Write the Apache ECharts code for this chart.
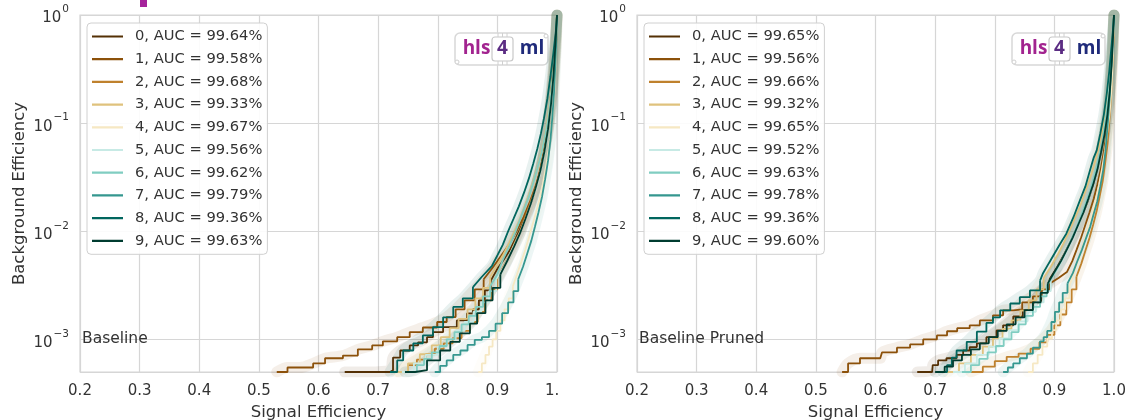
<!DOCTYPE html>
<html><head><meta charset="utf-8">
<script src="https://cdn.jsdelivr.net/npm/echarts@6/dist/echarts.min.js"></script>
<style>html,body{margin:0;padding:0;background:#fff}#c{width:1128px;height:420px}</style>
</head><body><div id="c"></div>
<script>
const classNames = ['0','1','2','3','4','5','6','7','8','9'];
const colors = ['#543005','#8c510a','#bf812d','#dfc27d','#f6e8c3','#c7eae5','#80cdc1','#35978f','#01665e','#003c30'];
const aucBaseline = [99.64,99.58,99.68,99.33,99.67,99.56,99.62,99.79,99.36,99.63];
const aucPruned = [99.65,99.56,99.66,99.32,99.65,99.52,99.63,99.78,99.36,99.60];
const panelTitles = ['Baseline','Baseline Pruned'];
const xTitle = 'Signal Efficiency';
const yTitle = 'Background Efficiency';

// [signal efficiency, background efficiency]
const baseline0 = [[0.644,5.0e-4],[0.683,5.0e-4],[0.72,5.2e-4],[0.725,6.8e-4],[0.737,7.9e-4],[0.753,8.8e-4],[0.767,9.4e-4],[0.782,1.05e-3],[0.792,1.17e-3],[0.809,1.3e-3],[0.832,1.5e-3],[0.849,1.74e-3],[0.859,1.9e-3],[0.869,2.3e-3],[0.879,2.84e-3],[0.889,3.5e-3],[0.899,4.4e-3],[0.91,5.4e-3],[0.921,6.7e-3],[0.931,8.7e-3],[0.941,1.14e-2],[0.95,1.5e-2],[0.958,1.94e-2],[0.966,2.7e-2],[0.972,3.7e-2],[0.978,5.4e-2],[0.983,8.6e-2],[0.988,0.14],[0.992,0.25],[0.995,0.4],[0.998,0.65],[1,1]];
const baseline1 = [[0.53,5.0e-4],[0.548,5.5e-4],[0.569,5.5e-4],[0.591,6.0e-4],[0.611,6.7e-4],[0.641,7.1e-4],[0.666,8.1e-4],[0.69,8.8e-4],[0.708,9.6e-4],[0.732,1.05e-3],[0.753,1.17e-3],[0.775,1.29e-3],[0.799,1.45e-3],[0.815,1.61e-3],[0.83,1.9e-3],[0.845,2.3e-3],[0.862,2.9e-3],[0.877,3.6e-3],[0.892,4.6e-3],[0.906,5.9e-3],[0.92,7.6e-3],[0.932,1.0e-2],[0.944,1.35e-2],[0.955,1.9e-2],[0.965,2.7e-2],[0.974,4.0e-2],[0.981,6.2e-2],[0.987,0.1],[0.992,0.17],[0.996,0.32],[0.999,0.6],[1,1]];
const baseline2 = [[0.735,5.0e-4],[0.75,5.8e-4],[0.765,6.5e-4],[0.78,7.3e-4],[0.795,8.2e-4],[0.81,9.2e-4],[0.825,1.03e-3],[0.84,1.2e-3],[0.854,1.45e-3],[0.867,1.8e-3],[0.879,2.3e-3],[0.89,2.9e-3],[0.9,3.7e-3],[0.91,4.7e-3],[0.92,6.0e-3],[0.929,7.8e-3],[0.938,1.0e-2],[0.946,1.32e-2],[0.954,1.75e-2],[0.962,2.35e-2],[0.969,3.2e-2],[0.975,4.5e-2],[0.981,6.6e-2],[0.986,0.1],[0.99,0.16],[0.994,0.27],[0.997,0.46],[1,1]];
const baseline3 = [[0.73,5.0e-4],[0.75,6.0e-4],[0.77,7.3e-4],[0.79,8.8e-4],[0.805,1.05e-3],[0.82,1.27e-3],[0.835,1.55e-3],[0.85,1.9e-3],[0.863,2.4e-3],[0.876,3.0e-3],[0.888,3.8e-3],[0.899,4.8e-3],[0.91,6.1e-3],[0.92,7.8e-3],[0.929,1.0e-2],[0.938,1.3e-2],[0.946,1.7e-2],[0.954,2.25e-2],[0.961,3.0e-2],[0.968,4.0e-2],[0.974,5.5e-2],[0.98,7.8e-2],[0.985,0.115],[0.989,0.17],[0.993,0.27],[0.996,0.42],[0.998,0.65],[1,1]];
const baseline4 = [[0.868,5.0e-4],[0.874,6.0e-4],[0.88,7.2e-4],[0.886,8.6e-4],[0.892,1.0e-3],[0.898,1.2e-3],[0.905,1.5e-3],[0.912,1.9e-3],[0.919,2.4e-3],[0.926,3.1e-3],[0.933,4.0e-3],[0.94,5.2e-3],[0.947,6.8e-3],[0.953,8.8e-3],[0.959,1.15e-2],[0.965,1.5e-2],[0.971,2.0e-2],[0.976,2.7e-2],[0.981,3.8e-2],[0.986,5.6e-2],[0.99,8.5e-2],[0.993,0.13],[0.996,0.22],[0.998,0.4],[1,1]];
const baseline5 = [[0.74,5.0e-4],[0.76,6.0e-4],[0.78,7.2e-4],[0.8,8.6e-4],[0.815,1.0e-3],[0.83,1.2e-3],[0.845,1.45e-3],[0.86,1.8e-3],[0.873,2.2e-3],[0.886,2.8e-3],[0.898,3.6e-3],[0.91,4.6e-3],[0.92,6.0e-3],[0.93,7.8e-3],[0.94,1.03e-2],[0.948,1.35e-2],[0.956,1.8e-2],[0.964,2.4e-2],[0.971,3.3e-2],[0.977,4.7e-2],[0.983,7.0e-2],[0.988,0.11],[0.992,0.18],[0.995,0.3],[0.998,0.52],[1,1]];
const baseline6 = [[0.752,5.0e-4],[0.765,5.8e-4],[0.777,6.6e-4],[0.79,7.6e-4],[0.803,8.7e-4],[0.815,1.0e-3],[0.828,1.17e-3],[0.84,1.38e-3],[0.852,1.65e-3],[0.864,2.0e-3],[0.876,2.5e-3],[0.888,3.1e-3],[0.899,3.9e-3],[0.91,5.6e-3],[0.92,7.3e-3],[0.929,9.5e-3],[0.937,1.24e-2],[0.945,1.62e-2],[0.953,2.1e-2],[0.96,2.8e-2],[0.967,3.8e-2],[0.974,5.3e-2],[0.98,7.6e-2],[0.986,0.115],[0.99,0.18],[0.994,0.3],[0.997,0.5],[1,1]];
const baseline7 = [[0.795,5.0e-4],[0.804,5.7e-4],[0.815,6.4e-4],[0.826,7.2e-4],[0.838,7.9e-4],[0.85,8.9e-4],[0.862,9.9e-4],[0.874,1.05e-3],[0.886,1.2e-3],[0.897,1.4e-3],[0.908,1.75e-3],[0.918,2.2e-3],[0.927,2.8e-3],[0.935,3.6e-3],[0.943,4.7e-3],[0.95,6.2e-3],[0.957,8.2e-3],[0.963,1.1e-2],[0.969,1.5e-2],[0.975,2.1e-2],[0.98,3.0e-2],[0.985,4.5e-2],[0.989,7.0e-2],[0.992,0.11],[0.995,0.19],[0.997,0.33],[0.999,0.6],[1,1]];
const baseline8 = [[0.72,5.0e-4],[0.732,6.4e-4],[0.742,7.9e-4],[0.759,9.2e-4],[0.775,1.09e-3],[0.792,1.3e-3],[0.809,1.6e-3],[0.826,2.0e-3],[0.842,2.4e-3],[0.859,3.05e-3],[0.874,3.8e-3],[0.891,4.8e-3],[0.9,6.0e-3],[0.909,7.5e-3],[0.918,1.0e-2],[0.927,1.3e-2],[0.936,1.7e-2],[0.945,2.3e-2],[0.953,3.1e-2],[0.96,4.2e-2],[0.967,5.8e-2],[0.973,8.0e-2],[0.978,0.11],[0.984,0.17],[0.989,0.27],[0.994,0.45],[0.998,0.7],[1,1]];
const baseline9 = [[0.745,5.0e-4],[0.762,5.2e-4],[0.782,6.4e-4],[0.804,7.9e-4],[0.821,9.5e-4],[0.837,1.14e-3],[0.854,1.4e-3],[0.866,1.75e-3],[0.88,2.3e-3],[0.892,3.0e-3],[0.905,4.0e-3],[0.917,5.4e-3],[0.928,7.2e-3],[0.938,9.6e-3],[0.947,1.3e-2],[0.956,1.8e-2],[0.964,2.5e-2],[0.972,3.6e-2],[0.979,5.5e-2],[0.985,8.8e-2],[0.99,0.15],[0.994,0.27],[0.997,0.5],[1,1]];

const pruned0 = [[0.67,5.0e-4],[0.695,5.2e-4],[0.696,5.8e-4],[0.705,6.4e-4],[0.719,6.7e-4],[0.736,7.2e-4],[0.747,7.9e-4],[0.758,8.5e-4],[0.77,9.2e-4],[0.786,1.05e-3],[0.803,1.21e-3],[0.814,1.35e-3],[0.831,1.63e-3],[0.847,1.87e-3],[0.864,2.2e-3],[0.878,2.8e-3],[0.892,3.6e-3],[0.905,4.7e-3],[0.917,6.2e-3],[0.928,8.2e-3],[0.938,1.08e-2],[0.947,1.42e-2],[0.956,1.9e-2],[0.964,2.6e-2],[0.971,3.6e-2],[0.978,5.3e-2],[0.984,8.0e-2],[0.989,0.13],[0.993,0.22],[0.996,0.38],[0.998,0.62],[1,1]];
const pruned1 = [[0.544,5.0e-4],[0.554,6.0e-4],[0.574,6.7e-4],[0.608,6.7e-4],[0.611,7.6e-4],[0.636,8.4e-4],[0.658,9.0e-4],[0.68,1.0e-3],[0.703,1.09e-3],[0.72,1.19e-3],[0.737,1.27e-3],[0.758,1.35e-3],[0.775,1.5e-3],[0.797,1.67e-3],[0.814,1.86e-3],[0.831,1.9e-3],[0.846,2.2e-3],[0.864,2.5e-3],[0.879,2.9e-3],[0.893,3.3e-3],[0.907,3.7e-3],[0.921,4.2e-3],[0.93,5.3e-3],[0.937,6.7e-3],[0.945,8.8e-3],[0.952,1.15e-2],[0.959,1.5e-2],[0.966,2.0e-2],[0.972,2.7e-2],[0.978,3.8e-2],[0.983,5.5e-2],[0.988,8.5e-2],[0.992,0.14],[0.995,0.25],[0.998,0.45],[1,1]];
const pruned2 = [[0.76,5.0e-4],[0.78,5.6e-4],[0.8,6.3e-4],[0.82,6.9e-4],[0.84,7.4e-4],[0.86,8.2e-4],[0.875,9.4e-4],[0.888,1.1e-3],[0.9,1.35e-3],[0.91,1.7e-3],[0.92,2.2e-3],[0.929,2.9e-3],[0.937,3.8e-3],[0.945,5.0e-3],[0.952,6.6e-3],[0.959,8.7e-3],[0.965,1.15e-2],[0.971,1.55e-2],[0.976,2.1e-2],[0.981,2.9e-2],[0.985,4.2e-2],[0.989,6.3e-2],[0.992,0.1],[0.995,0.17],[0.997,0.3],[0.999,0.55],[1,1]];
const pruned3 = [[0.72,5.0e-4],[0.74,6.0e-4],[0.76,7.2e-4],[0.78,8.6e-4],[0.797,1.03e-3],[0.813,1.25e-3],[0.828,1.5e-3],[0.843,1.85e-3],[0.857,2.3e-3],[0.87,2.9e-3],[0.882,3.7e-3],[0.894,4.7e-3],[0.905,6.0e-3],[0.915,7.7e-3],[0.925,1.0e-2],[0.934,1.3e-2],[0.943,1.7e-2],[0.951,2.25e-2],[0.959,3.0e-2],[0.966,4.0e-2],[0.973,5.5e-2],[0.979,7.8e-2],[0.985,0.115],[0.989,0.17],[0.993,0.27],[0.996,0.42],[0.998,0.65],[1,1]];
const pruned4 = [[0.856,5.0e-4],[0.864,6.0e-4],[0.872,7.2e-4],[0.88,8.6e-4],[0.888,1.02e-3],[0.896,1.22e-3],[0.903,1.5e-3],[0.911,1.9e-3],[0.918,2.4e-3],[0.925,3.1e-3],[0.932,4.0e-3],[0.939,5.2e-3],[0.946,6.8e-3],[0.952,8.8e-3],[0.958,1.15e-2],[0.964,1.5e-2],[0.97,2.0e-2],[0.975,2.7e-2],[0.98,3.8e-2],[0.985,5.6e-2],[0.989,8.5e-2],[0.993,0.13],[0.996,0.22],[0.998,0.4],[1,1]];
const pruned5 = [[0.73,5.0e-4],[0.75,6.0e-4],[0.77,7.2e-4],[0.79,8.6e-4],[0.808,1.02e-3],[0.824,1.22e-3],[0.84,1.47e-3],[0.855,1.8e-3],[0.869,2.2e-3],[0.882,2.8e-3],[0.894,3.6e-3],[0.906,4.6e-3],[0.917,6.0e-3],[0.927,7.8e-3],[0.937,1.03e-2],[0.946,1.35e-2],[0.954,1.8e-2],[0.962,2.4e-2],[0.969,3.3e-2],[0.976,4.7e-2],[0.982,7.0e-2],[0.987,0.11],[0.991,0.18],[0.995,0.3],[0.998,0.52],[1,1]];
const pruned6 = [[0.745,5.0e-4],[0.76,5.8e-4],[0.774,6.6e-4],[0.788,7.6e-4],[0.802,8.7e-4],[0.815,1.0e-3],[0.828,1.17e-3],[0.84,1.38e-3],[0.852,1.65e-3],[0.864,2.0e-3],[0.876,2.5e-3],[0.887,3.1e-3],[0.898,3.9e-3],[0.908,4.9e-3],[0.918,6.3e-3],[0.927,8.1e-3],[0.936,1.05e-2],[0.944,1.37e-2],[0.952,1.8e-2],[0.96,2.4e-2],[0.967,3.3e-2],[0.974,4.7e-2],[0.981,7.0e-2],[0.986,0.11],[0.991,0.18],[0.995,0.3],[0.998,0.52],[1,1]];
const pruned7 = [[0.814,5.0e-4],[0.822,5.5e-4],[0.831,6.0e-4],[0.842,6.7e-4],[0.854,7.4e-4],[0.864,8.4e-4],[0.876,9.6e-4],[0.882,1.05e-3],[0.888,1.2e-3],[0.895,1.45e-3],[0.901,1.8e-3],[0.908,2.2e-3],[0.914,2.7e-3],[0.922,3.3e-3],[0.931,4.1e-3],[0.938,5.2e-3],[0.946,6.7e-3],[0.953,8.6e-3],[0.96,1.1e-2],[0.966,1.45e-2],[0.972,1.9e-2],[0.977,2.6e-2],[0.982,3.7e-2],[0.986,5.7e-2],[0.99,0.107],[0.993,0.18],[0.995,0.31],[0.998,0.65],[1,1]];
const pruned8 = [[0.713,5.0e-4],[0.72,5.8e-4],[0.728,6.8e-4],[0.736,7.9e-4],[0.753,9.5e-4],[0.77,1.18e-3],[0.786,1.42e-3],[0.797,1.6e-3],[0.809,1.86e-3],[0.826,2.15e-3],[0.842,2.46e-3],[0.859,2.84e-3],[0.876,3.5e-3],[0.881,4.1e-3],[0.891,5.1e-3],[0.9,6.2e-3],[0.91,7.7e-3],[0.92,9.5e-3],[0.932,1.35e-2],[0.943,1.94e-2],[0.952,2.6e-2],[0.96,3.7e-2],[0.966,4.8e-2],[0.971,5.6e-2],[0.977,8.0e-2],[0.983,0.12],[0.988,0.19],[0.992,0.3],[0.995,0.46],[0.998,0.7],[1,1]];
const pruned9 = [[0.7,5.0e-4],[0.716,5.6e-4],[0.73,6.4e-4],[0.745,7.2e-4],[0.76,8.1e-4],[0.775,9.2e-4],[0.79,1.05e-3],[0.805,1.2e-3],[0.82,1.38e-3],[0.835,1.6e-3],[0.85,1.87e-3],[0.864,2.2e-3],[0.877,2.7e-3],[0.889,3.3e-3],[0.9,4.2e-3],[0.911,5.3e-3],[0.921,6.8e-3],[0.931,8.8e-3],[0.94,1.15e-2],[0.949,1.5e-2],[0.957,2.0e-2],[0.965,2.7e-2],[0.972,3.7e-2],[0.978,5.3e-2],[0.984,7.8e-2],[0.989,0.12],[0.993,0.2],[0.996,0.34],[0.998,0.56],[1,1]];

const baselineCurves = [baseline0,baseline1,baseline2,baseline3,baseline4,baseline5,baseline6,baseline7,baseline8,baseline9];
const prunedCurves = [pruned0,pruned1,pruned2,pruned3,pruned4,pruned5,pruned6,pruned7,pruned8,pruned9];

const FONT = 'DejaVu Sans';
const TXT = '#333333';
const GRIDC = '#d6d6d6';
const chart = echarts.init(document.getElementById('c'), null, {renderer:'canvas'});

const gridBoxes = [{left:80, top:15, width:477, height:357},{left:637, top:15, width:477, height:357}];
const panels = [{curves:baselineCurves, auc:aucBaseline},{curves:prunedCurves, auc:aucPruned}];
// thin horizontal bar inside the full item box (tiny corner specks fix the bounds)
const LINE_ICON = 'path://M0,0L0.01,0L0,0.01Z M0,5.9L31,5.9L31,8.1L0,8.1Z M30.99,14L31,14L31,13.99Z';

function supLabel(v){
  const e = Math.round(Math.log10(v));
  const s = e < 0 ? '\u2212' + (-e) : String(e);
  return '{b|10}{s|' + s + '}';
}

const xAxes = [], yAxes = [], series = [], legends = [];
panels.forEach((p, gi) => {
  xAxes.push({type:'value', gridIndex:gi, min:0.2, max:1.0, interval:0.1,
    name:xTitle, nameLocation:'middle', nameGap:31,
    nameTextStyle:{fontFamily:FONT, fontSize:16.5, color:TXT},
    axisLine:{show:false}, axisTick:{show:false},
    axisLabel:{fontFamily:FONT, fontSize:15, color:TXT, margin:12, formatter:v=>v.toFixed(1)},
    splitLine:{show:true, lineStyle:{color:GRIDC, width:1.2}}});
  yAxes.push({type:'log', logBase:10, gridIndex:gi, min:5e-4, max:1,
    name:yTitle, nameLocation:'middle', nameGap:52, nameRotate:90,
    nameTextStyle:{fontFamily:FONT, fontSize:16.5, color:TXT},
    axisLine:{show:false}, axisTick:{show:false}, minorTick:{show:false},
    axisLabel:{showMinLabel:false, margin:11, formatter:supLabel,
      rich:{b:{fontFamily:FONT, fontSize:15, color:TXT, lineHeight:22, verticalAlign:'bottom'},
            s:{fontFamily:FONT, fontSize:10.5, color:TXT, lineHeight:22, verticalAlign:'top', padding:[0,0,0,1]}}},
    splitLine:{show:true, lineStyle:{color:GRIDC, width:1.2}}});
  const names = [];
  p.curves.forEach((d, i) => {
    series.push({type:'line', name:'band-' + gi + '-' + i, xAxisIndex:gi, yAxisIndex:gi, data:d,
      showSymbol:false, symbol:'none', smooth:0.3, silent:true, z:1,
      lineStyle:{color:colors[i], width:11, opacity:0.09, cap:'round', join:'round'}});
  });
  p.curves.forEach((d, i) => {
    const nm = classNames[i] + ', AUC = ' + p.auc[i].toFixed(2) + '%';
    names.push({name:nm, icon:LINE_ICON});
    // staircase in the sparse low-efficiency region, plain polyline in the dense upper part
    let k = d.findIndex(pt => pt[1] > 3e-3);
    if (k < 0) k = d.length - 1;
    series.push({type:'line', name:nm, xAxisIndex:gi, yAxisIndex:gi, data:d.slice(0, k + 1),
      showSymbol:false, symbol:'none', step:'end', z:3,
      lineStyle:{color:colors[i], width:1.8}, itemStyle:{color:colors[i]}});
    series.push({type:'line', name:nm, xAxisIndex:gi, yAxisIndex:gi, data:d.slice(k),
      showSymbol:false, symbol:'none', z:3,
      lineStyle:{color:colors[i], width:1.8}, itemStyle:{color:colors[i]}});
  });
  legends.push({data:names, orient:'vertical', left:gridBoxes[gi].left + 7, top:23,
    itemWidth:31, itemHeight:14, itemGap:7.7, selectedMode:false,
    padding:[6,5,6,5], borderColor:'#d0d0d0', borderWidth:1, borderRadius:4,
    backgroundColor:'rgba(255,255,255,0.9)',
    textStyle:{fontFamily:FONT, fontSize:14.7, color:TXT, padding:[0,0,0,7]}});
});

chart.setOption({
  animation:false,
  backgroundColor:'#ffffff',
  grid: gridBoxes.map(g => Object.assign({show:true, borderColor:GRIDC, borderWidth:1.2, backgroundColor:'transparent', containLabel:false, outerBoundsMode:'none'}, g)),
  xAxis:xAxes, yAxis:yAxes, legend:legends, series:series
});

// annotations positioned through the axes
const gfx = [];
panels.forEach((p, gi) => {
  const anchor = chart.convertToPixel({xAxisIndex:gi, yAxisIndex:gi}, [0.2, 1e-3]);
  gfx.push({type:'text', x:anchor[0] + 2, y:anchor[1], z:10,
    style:{text:panelTitles[gi], fontFamily:FONT, fontSize:15.5, fill:TXT, verticalAlign:'middle'}});
  const tr = chart.convertToPixel({xAxisIndex:gi, yAxisIndex:gi}, [1.0, 1]);
  const bx = tr[0] - 102, by = tr[1] + 18;
  gfx.push({type:'group', x:bx, y:by, z:10, children:[
    {type:'rect', shape:{x:0, y:0, width:93, height:32, r:5}, style:{fill:'#fff', stroke:'#d8d8d8', lineWidth:1.5}},
    {type:'circle', shape:{cx:91, cy:3, r:2}, style:{fill:'#fff', stroke:'#d0d0d0', lineWidth:1}},
    {type:'circle', shape:{cx:2, cy:29, r:2}, style:{fill:'#fff', stroke:'#d0d0d0', lineWidth:1}},
    {type:'rect', shape:{x:37, y:4, width:21, height:24, r:3}, style:{fill:'#fff', stroke:'#c8c8c8', lineWidth:1.2}},
    {type:'line', shape:{x1:43, y1:0, x2:43, y2:4}, style:{stroke:'#d0d0d0', lineWidth:1}},
    {type:'line', shape:{x1:47.5, y1:0, x2:47.5, y2:4}, style:{stroke:'#d0d0d0', lineWidth:1}},
    {type:'line', shape:{x1:52, y1:0, x2:52, y2:4}, style:{stroke:'#d0d0d0', lineWidth:1}},
    {type:'line', shape:{x1:43, y1:28, x2:43, y2:32}, style:{stroke:'#d0d0d0', lineWidth:1}},
    {type:'line', shape:{x1:47.5, y1:28, x2:47.5, y2:32}, style:{stroke:'#d0d0d0', lineWidth:1}},
    {type:'line', shape:{x1:52, y1:28, x2:52, y2:32}, style:{stroke:'#d0d0d0', lineWidth:1}},
    {type:'text', x:21.5, y:16, style:{text:'hls', fontFamily:'Open Sans', fontWeight:'bold', fontSize:19, fill:'#a2238f', align:'center', verticalAlign:'middle'}},
    {type:'text', x:47.5, y:16, style:{text:'4', fontFamily:'Open Sans', fontWeight:'bold', fontSize:19, fill:'#5b2c83', align:'center', verticalAlign:'middle'}},
    {type:'text', x:77, y:16, style:{text:'ml', fontFamily:'Open Sans', fontWeight:'bold', fontSize:19, fill:'#1f2a7a', align:'center', verticalAlign:'middle'}}
  ]});
});
// clipped edge between the two panels and the cut-off mark at the top
gfx.push({type:'rect', shape:{x:560, y:380, width:10, height:24}, style:{fill:'#ffffff'}, z:20});
gfx.push({type:'rect', shape:{x:140, y:0, width:7, height:7}, style:{fill:'#a5239b'}, z:20});
chart.setOption({graphic:gfx});
</script></body></html>
